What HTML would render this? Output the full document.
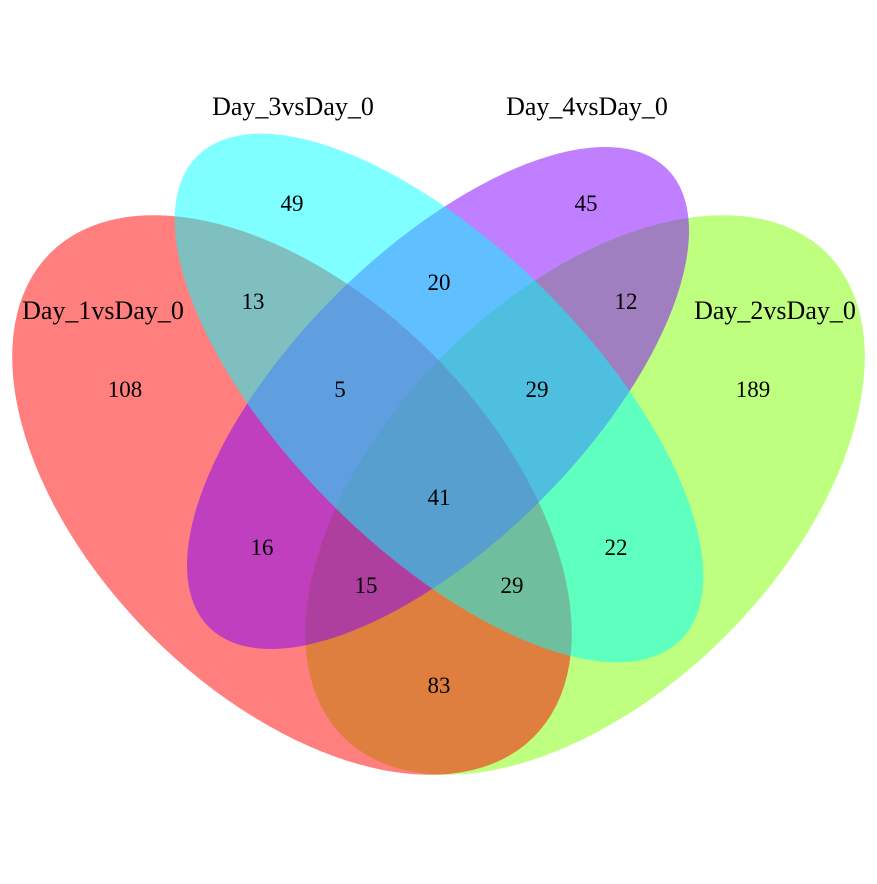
<!DOCTYPE html>
<html><head><meta charset="utf-8"><style>
html,body{margin:0;padding:0;background:#fff}
text{font-family:"Liberation Serif",serif;font-size:23px;fill:#000}
text.set{font-size:26px}
</style></head><body>
<svg width="877" height="879" viewBox="0 0 877 879">
<g id="ell"></g>
<g id="lbl"></g>
</svg>
<script>
const setNames=["Day_1vsDay_0","Day_2vsDay_0","Day_3vsDay_0","Day_4vsDay_0"];
const regionCounts=[108,189,49,45,13,12,20,5,29,41,16,22,15,29,83];
const regionKeys=["1","2","3","4","13","24","34","134","234","1234","14","23","124","123","12"];
const ns="http://www.w3.org/2000/svg";
const shapes=[
 {cx:585,cy:495,a:342,b:199,r:-45,fill:"#7FFF00",name:"ellipse-day2"},
 {cx:292,cy:495,a:342,b:199,r:45,fill:"#FF0000",name:"ellipse-day1"},
 {cx:438,cy:398,a:324,b:145,r:-45,fill:"#7F00FF",name:"ellipse-day4"},
 {cx:439,cy:398,a:342,b:151,r:45,fill:"#00FFFF",name:"ellipse-day3"}];
const eg=document.getElementById('ell');
shapes.forEach(s=>{const e=document.createElementNS(ns,'ellipse');
e.setAttribute('cx',s.cx);e.setAttribute('cy',s.cy);e.setAttribute('rx',s.a);e.setAttribute('ry',s.b);
e.setAttribute('transform',`rotate(${s.r} ${s.cx} ${s.cy})`);e.setAttribute('fill',s.fill);e.setAttribute('fill-opacity','0.5');


eg.appendChild(e);});
const regionPos={"1":[125,389],"2":[753,389],"3":[292,203],"4":[586,203],"13":[253,301],"24":[626,301],"34":[439,282],"134":[340,389],"234":[537,389],"1234":[439,497],"14":[262,547],"23":[616,547],"124":[366,585],"123":[512,585],"12":[439,685]};
const namePos=[[103,310],[775,310],[293,106],[587,106]];
const lg=document.getElementById('lbl');
regionCounts.forEach((v,i)=>{const t=document.createElementNS(ns,'text');const p=regionPos[regionKeys[i]];
t.setAttribute('x',p[0]);t.setAttribute('y',p[1]+8);t.setAttribute('text-anchor','middle');t.textContent=v;


lg.appendChild(t);});
setNames.forEach((n,i)=>{const t=document.createElementNS(ns,'text');
t.setAttribute('class','set');
t.setAttribute('x',namePos[i][0]);t.setAttribute('y',namePos[i][1]+9);t.setAttribute('text-anchor','middle');t.textContent=n;


lg.appendChild(t);});
</script>
</body></html>
